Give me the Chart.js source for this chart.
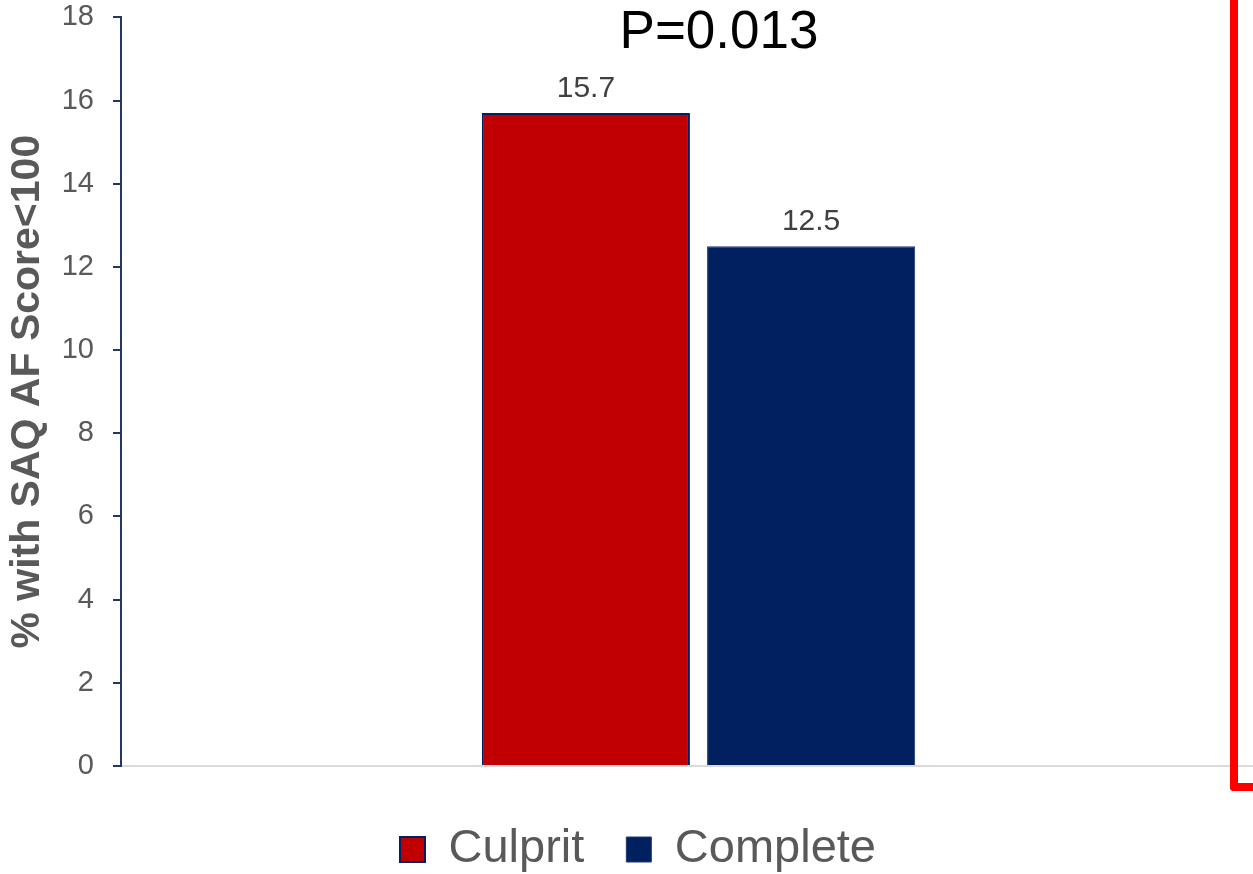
<!DOCTYPE html>
<html>
<head>
<meta charset="utf-8">
<script src="https://cdn.jsdelivr.net/npm/chart.js@4.4.1/dist/chart.umd.min.js"></script>
<style>
  html, body { margin: 0; padding: 0; background: #ffffff; overflow: hidden; }
  #wrap { position: relative; width: 1253px; height: 874px; overflow: hidden; }
  #chart { position: absolute; left: 0; top: -19px; }
  #bracket {
    position: absolute; left: 1230px; top: -20px; width: 40px; height: 811px;
    box-sizing: border-box; border-left: 8px solid #ff0000; border-bottom: 8px solid #ff0000;
    border-bottom-left-radius: 4px;
  }
</style>
</head>
<body>
<div id="wrap">
  <canvas id="chart" width="1280" height="902"></canvas>
  <div id="bracket"></div>
</div>
<script>
// Data
const categories = [''];
const seriesNames = ['Culprit', 'Complete'];
const culpritValues = [15.7];
const completeValues = [12.5];
const yTicks = { min: 0, max: 18, step: 2 };
const pValueText = 'P=0.013';
const yAxisTitle = '% with SAQ AF Score<100';

const FONT = '"Liberation Sans", Arial, Helvetica, sans-serif';

// Value labels above each bar
const valueLabels = {
  id: 'valueLabels',
  afterDatasetsDraw(chart) {
    const ctx = chart.ctx;
    ctx.save();
    ctx.font = '30px ' + FONT;
    ctx.fillStyle = '#404040';
    ctx.textAlign = 'center';
    ctx.textBaseline = 'alphabetic';
    chart.data.datasets.forEach((ds, i) => {
      chart.getDatasetMeta(i).data.forEach((bar, j) => {
        ctx.fillText(String(ds.data[j]), bar.x, bar.y - 16);
      });
    });
    ctx.restore();
  }
};

// P-value annotation above the bars
const pValue = {
  id: 'pValue',
  afterDraw(chart) {
    const ctx = chart.ctx;
    ctx.save();
    ctx.font = '53px ' + FONT;
    ctx.fillStyle = '#000000';
    ctx.textAlign = 'center';
    ctx.textBaseline = 'alphabetic';
    ctx.fillText(pValueText, 719, 67);
    ctx.restore();
  }
};

new Chart(document.getElementById('chart'), {
  type: 'bar',
  data: {
    labels: categories,
    datasets: [
      {
        label: seriesNames[0],
        data: culpritValues,
        backgroundColor: '#C00000',
        borderColor: '#002060',
        borderWidth: 2
      },
      {
        label: seriesNames[1],
        data: completeValues,
        backgroundColor: '#002060',
        borderColor: '#1F3A75',
        borderWidth: 1
      }
    ]
  },
  options: {
    responsive: false,
    animation: false,
    layout: { padding: { top: 0, right: 4, bottom: 0, left: 0 } },
    categoryPercentage: 0.39,
    barPercentage: 0.924,
    plugins: {
      legend: {
        position: 'bottom',
        labels: {
          font: { family: FONT, size: 47 },
          color: '#595959',
          boxWidth: 25,
          boxHeight: 25,
          padding: 42
        }
      },
      tooltip: { enabled: false },
      title: { display: false }
    },
    scales: {
      x: {
        z: 1,
        ticks: { display: false },
        grid: { display: false, drawTicks: false },
        border: { display: true, color: '#D9D9D9', width: 2 },
        afterFit(scale) { scale.height = 18; }
      },
      y: {
        min: yTicks.min,
        max: yTicks.max,
        ticks: {
          stepSize: yTicks.step,
          font: { family: FONT, size: 29 },
          color: '#595959',
          padding: 19
        },
        grid: {
          display: true,
          drawOnChartArea: false,
          drawTicks: true,
          tickLength: 8,
          color: '#1F3864',
          lineWidth: 2
        },
        border: { display: true, color: '#1F3864', width: 2 },
        title: {
          display: true,
          text: yAxisTitle,
          font: { family: FONT, size: 41, weight: 'bold' },
          color: '#595959',
          padding: { top: 3, bottom: 0 }
        },
        afterFit(scale) { scale.width = 121; }
      }
    }
  },
  plugins: [valueLabels, pValue]
});
</script>
</body>
</html>
